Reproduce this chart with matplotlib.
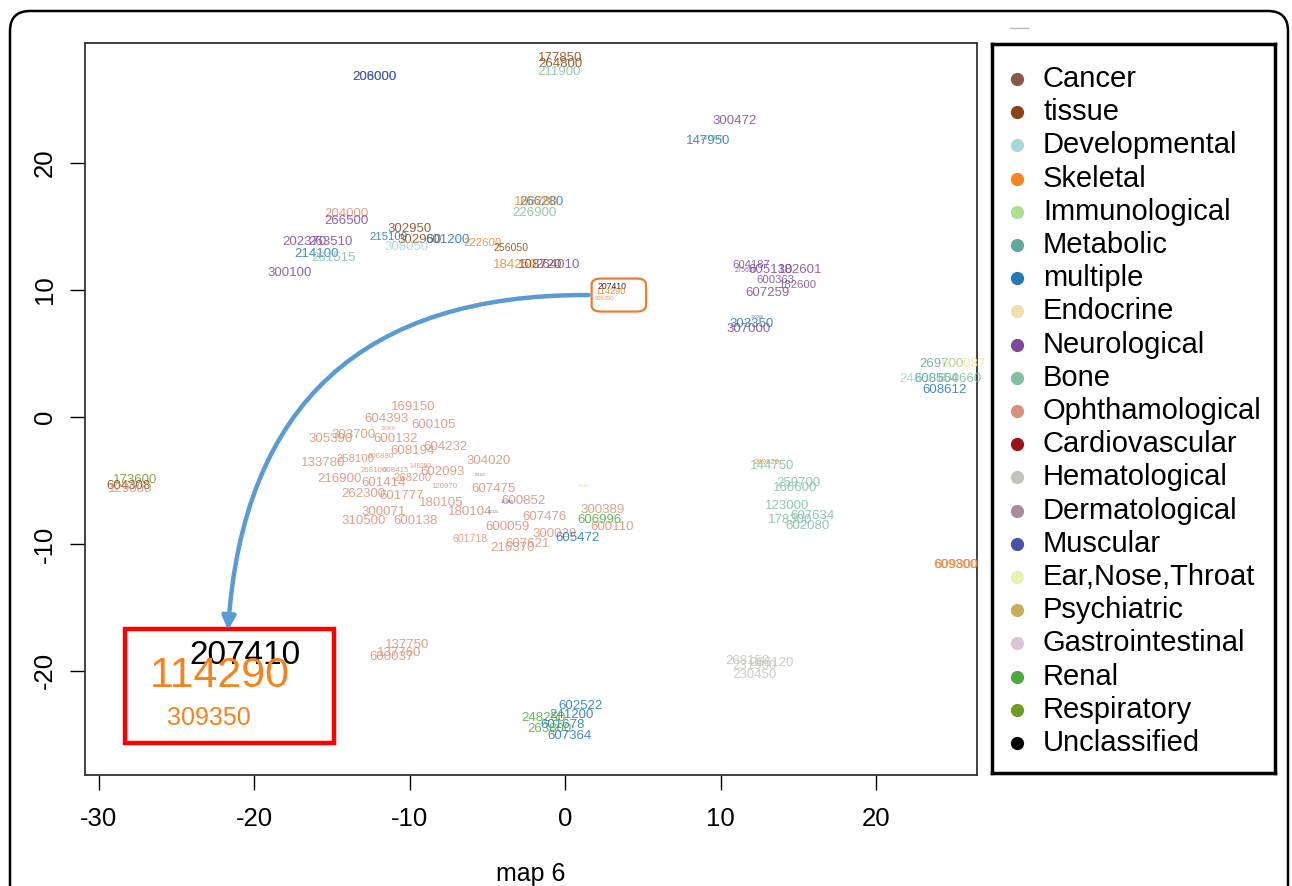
import matplotlib
matplotlib.use("Agg")
import matplotlib.pyplot as plt
from matplotlib.patches import FancyBboxPatch, Rectangle, FancyArrowPatch
from matplotlib.lines import Line2D

plt.rcParams['font.family'] = ['Liberation Sans', 'DejaVu Sans']
plt.rcParams['axes.unicode_minus'] = False

# disease classes and their colours
classes = ["Cancer", "tissue", "Developmental", "Skeletal", "Immunological",
           "Metabolic", "multiple", "Endocrine", "Neurological", "Bone",
           "Ophthamological", "Cardiovascular", "Hematological", "Dermatological",
           "Muscular", "Ear,Nose,Throat", "Psychiatric", "Gastrointestinal",
           "Renal", "Respiratory", "Unclassified"]
class_colors = ["#8c564b", "#8b4513", "#a8d8d8", "#f5841f", "#addf8f",
                "#5ea89c", "#2378b5", "#efe2a8", "#7d4a9a", "#80c09e",
                "#d99177", "#9b1119", "#c4c4bc", "#a48d9d",
                "#4c51a8", "#e6f3b3", "#c8ad5b", "#dcc3d6",
                "#4caa3d", "#6c9a25", "#000000"]

# OMIM entries placed on the map
omim_ids = [
    "177850", "264800", "211900", "208000", "206000", "300472", "147950", "147980",
    "266280", "166280", "226900", "204000", "266500", "202370", "263510", "214100",
    "261515", "300100", "302950", "215100", "302960", "601200", "308050", "222600",
    "256050", "184250", "108720", "264010",
    "207410", "114290", "309350",
    "604187", "275630", "605130", "182601", "600363", "182600", "607259", "300088",
    "303350", "307000",
    "269700", "600087", "248600", "608554", "600660", "608612",
    "173600", "604308", "129000",
    "169150", "604393", "600105", "305390", "303700", "190900", "600132", "608194",
    "604232", "133780", "258100", "606880", "268100", "608415", "148200", "602093",
    "304020", "216900", "601414", "268200", "120970", "607475", "262300", "601777",
    "180105", "600852", "180104", "300071", "310500", "600138", "607476", "300389",
    "606996", "600110", "600059", "300029", "605472", "601718", "607621", "216370",
    "601123", "160900", "600124", "601300",
    "269920", "144750", "259700", "166600", "123000", "178300", "607634", "602080",
    "609300", "609800",
    "137750", "137760", "600037",
    "268150", "266120", "231900", "230450",
    "602522", "241200", "248250", "601678", "263800", "607364",
]
map6 = [
    -0.3, -0.3, -0.4, -12.3, -12.25, 10.9, 9.2, 9.4,
    -1.5, -1.9, -2.0, -14.1, -14.1, -16.8, -15.1, -16.0,
    -14.9, -17.7, -10.0, -11.4, -9.4, -7.6, -10.2, -5.3,
    -3.5, -3.2, -1.6, -0.5,
    3.0, 2.9, 2.5,
    12.0, 11.6, 13.2, 15.1, 13.5, 14.9, 13.0, 12.4,
    12.0, 11.8,
    24.2, 25.6, 22.9, 23.9, 25.4, 24.4,
    -27.7, -28.1, -28.0,
    -9.8, -11.5, -8.5, -15.1, -13.6, -11.4, -10.9, -9.8,
    -7.7, -15.6, -13.5, -11.9, -12.3, -10.9, -9.3, -7.9,
    -4.9, -14.5, -11.7, -9.8, -7.8, -4.6, -13.0, -10.5,
    -8.0, -2.7, -6.1, -11.7, -13.0, -9.6, -1.3, 2.4,
    2.2, 3.0, -3.7, -0.7, 0.8, -6.1, -2.4, -3.4,
    -5.5, -3.7, -4.6, 1.2,
    13.0, 13.3, 15.0, 14.8, 14.3, 14.5, 15.9, 15.6,
    25.1, 25.2,
    -10.2, -10.7, -11.2,
    11.7, 13.3, 12.2, 12.2,
    1.0, 0.4, -1.4, -0.2, -1.0, 0.3,
]
map_y = [
    28.3, 27.8, 27.2, 26.8, 26.8, 23.3, 21.7, 21.9,
    16.9, 16.9, 16.1, 16.0, 15.4, 13.8, 13.8, 12.8,
    12.5, 11.3, 14.8, 14.2, 13.9, 13.9, 13.4, 13.7,
    13.3, 12.0, 12.0, 12.0,
    10.3, 9.9, 9.3,
    12.0, 11.5, 11.6, 11.6, 10.8, 10.4, 9.8, 7.9,
    7.3, 6.9,
    4.2, 4.2, 3.0, 3.0, 3.0, 2.1,
    -5.0, -5.4, -5.7,
    0.8, -0.2, -0.6, -1.7, -1.4, -0.9, -1.7, -2.7,
    -2.4, -3.6, -3.3, -3.1, -4.2, -4.2, -3.9, -4.3,
    -3.5, -4.9, -5.2, -4.8, -5.5, -5.7, -6.1, -6.2,
    -6.8, -6.6, -7.5, -7.5, -8.2, -8.2, -7.9, -7.3,
    -8.1, -8.7, -8.7, -9.2, -9.5, -9.6, -10.0, -10.3,
    -4.6, -6.7, -7.5, -5.4,
    -3.6, -3.9, -5.2, -5.6, -7.0, -8.1, -7.8, -8.6,
    -11.7, -11.7,
    -18.0, -18.6, -18.9,
    -19.2, -19.4, -19.6, -20.3,
    -22.8, -23.5, -23.7, -24.3, -24.6, -25.1,
]
disease = (
    ["tissue", "tissue", "Bone", "multiple", "Muscular", "Neurological", "multiple", "Metabolic",
     "multiple", "Skeletal", "Bone", "Ophthamological", "Neurological", "Neurological",
     "Neurological", "multiple", "Bone", "Neurological", "tissue", "multiple", "tissue",
     "multiple", "Developmental", "Skeletal", "tissue", "Skeletal", "tissue", "Neurological"]
    + ["Unclassified", "Skeletal", "Skeletal"]
    + ["Neurological"] * 8 + ["multiple", "Neurological"]
    + ["Metabolic", "Endocrine", "Developmental", "Metabolic", "Bone", "multiple"]
    + ["Respiratory", "tissue", "Ophthamological"]
    + ["Ophthamological"] * 32
    + ["Renal"] + ["Ophthamological"] * 3 + ["multiple"] + ["Ophthamological"] * 3
    + ["multiple", "Muscular", "multiple", "Immunological"]
    + ["Skeletal"] + ["Bone"] * 7
    + ["Ophthamological", "Skeletal"]
    + ["Ophthamological"] * 3
    + ["Hematological"] * 4
    + ["multiple", "multiple", "Renal", "multiple", "Renal", "multiple"]
)

# entries printed smaller than the default label size
small_cex = {"147980": 0.55, "215100": 0.85, "222600": 0.85, "256050": 0.8,
             "207410": 0.65, "114290": 0.7, "309350": 0.45,
             "604187": 0.85, "275630": 0.5, "600363": 0.85, "182600": 0.85,
             "300088": 0.3, "190900": 0.35, "258100": 0.85, "606880": 0.6,
             "268100": 0.6, "608415": 0.6, "148200": 0.5, "268200": 0.85,
             "120970": 0.6, "601718": 0.8, "601123": 0.25, "160900": 0.3,
             "600124": 0.25, "601300": 0.25, "269920": 0.6}

# enlarged view of the boxed group
inset_ids = ["207410", "114290", "309350"]
inset_x = [-20.6, -22.2, -22.9]
inset_y = [-18.8, -20.4, -23.7]
inset_class = ["Unclassified", "Skeletal", "Skeletal"]
inset_size = [24, 31, 18]

color_of = dict(zip(classes, class_colors))

fig = plt.figure(figsize=(12.92, 8.86), dpi=100)
ax = fig.add_axes([85 / 1292, 1 - 775 / 886, 892 / 1292, 732 / 886])
ax.set_xlim(-30.9, 26.5)
ax.set_ylim(-28.2, 29.45)

for oid, xv, yv, cls in zip(omim_ids, map6, map_y, disease):
    ax.text(xv, yv, oid, color=color_of[cls], fontsize=9.5 * small_cex.get(oid, 1.0),
            ha="center", va="center", alpha=0.85)

for oid, xv, yv, cls, fs in zip(inset_ids, inset_x, inset_y, inset_class, inset_size):
    ax.text(xv, yv, oid, color=color_of[cls], fontsize=fs, ha="center", va="center")

# highlight box around the small group and its enlargement
ax.add_patch(FancyBboxPatch((1.7, 8.3), 3.5, 2.6, boxstyle="round,pad=0,rounding_size=0.6",
                            fill=False, edgecolor="#ed7d31", linewidth=1.6,
                            mutation_aspect=0.8))
ax.add_patch(Rectangle((-28.3, -25.7), 13.4, 9.0, fill=False, edgecolor="#ff0000",
                       linewidth=3.2))
ax.add_patch(FancyArrowPatch((1.5, 9.6), (-21.7, -16.8), connectionstyle="arc3,rad=0.47",
                             arrowstyle="-|>,head_length=8,head_width=4",
                             color="#5b9bd5", linewidth=3.2, shrinkA=0, shrinkB=0))

ax.set_xticks([-30, -20, -10, 0, 10, 20])
ax.set_yticks([-20, -10, 0, 10, 20])
ax.set_yticklabels(["-20", "-10", "0", "10", "20"], rotation=90, va="center")
ax.tick_params(direction="out", length=11, width=1, labelsize=18.5, pad=12)
ax.tick_params(axis="y", pad=9)
ax.set_xlabel("map 6", fontsize=18, labelpad=22)
for sp in ax.spines.values():
    sp.set_linewidth(1.3)
    sp.set_color("#333333")

# legend panel
lax = fig.add_axes([992 / 1292, 1 - 773 / 886, 283 / 1292, 729 / 886])
lax.set_xlim(0, 283)
lax.set_ylim(773, 44)
lax.set_xticks([])
lax.set_yticks([])
for sp in lax.spines.values():
    sp.set_linewidth(2.5)
    sp.set_color("black")
for i, (name, col) in enumerate(zip(classes, class_colors)):
    yy = 79 + i * 33.2
    lax.plot(25, yy, "o", color=col, markersize=8.5)
    lax.text(51, yy, name, fontsize=21, va="center", ha="left")

# outer rounded frame
fig.add_artist(FancyBboxPatch((0.1, -0.5), 12.78, 9.25,
                              boxstyle="round,pad=0,rounding_size=0.2",
                              transform=fig.dpi_scale_trans, fill=False,
                              edgecolor="black", linewidth=1.8))
fig.add_artist(Line2D([1010 / 1292, 1028 / 1292], [1 - 28 / 886, 1 - 28 / 886],
                      color="#bbbbbb", linewidth=1))

fig.savefig("out.png", dpi=100)
